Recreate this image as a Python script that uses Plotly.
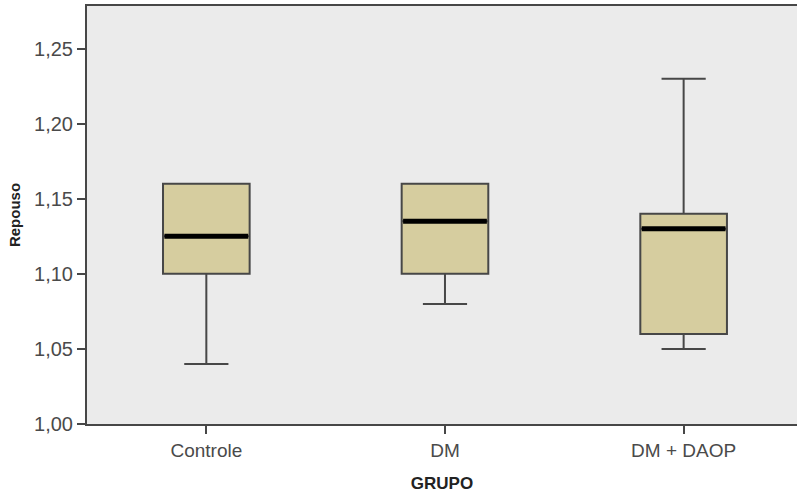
import plotly.graph_objects as go

categories = ["Controle", "DM", "DM + DAOP"]
q1 = [1.10, 1.10, 1.06]
median = [1.125, 1.135, 1.13]
q3 = [1.16, 1.16, 1.14]
lower = [1.04, 1.08, 1.05]
upper = [1.16, 1.16, 1.23]
y_ticks = [1.00, 1.05, 1.10, 1.15, 1.20, 1.25]

pos = list(range(len(categories)))
BW = 0.363
LINE = "#474747"

fig = go.Figure()
fig.add_trace(go.Box(
    x=pos, q1=q1, median=median, q3=q3, lowerfence=lower, upperfence=upper,
    width=BW, whiskerwidth=0.51, fillcolor="#d6cd9f",
    line=dict(color=LINE, width=2), boxpoints=False, hoverinfo="skip",
    showlegend=False,
))
mx, my = [], []
for p, m in zip(pos, median):
    mx += [p - BW / 2 + 0.006, p + BW / 2 - 0.006, None]
    my += [m, m, None]
fig.add_trace(go.Scatter(x=mx, y=my, mode="lines",
                         line=dict(color="#000000", width=5),
                         showlegend=False, hoverinfo="skip"))

fig.update_layout(
    width=797, height=497,
    margin=dict(l=87, r=0, t=6, b=73, autoexpand=False),
    paper_bgcolor="white", plot_bgcolor="#ebebeb",
    separators=",.",
    font=dict(family="Liberation Sans, Arial", color="#4a4a4a"),
    xaxis=dict(
        range=[-0.5, 2.475], tickvals=pos, ticktext=categories,
        showgrid=False, zeroline=False,
        showline=True, linecolor=LINE, linewidth=2, mirror=True,
        ticks="outside", ticklen=8, tickwidth=2, tickcolor=LINE,
        tickfont=dict(size=19, color="#4a4a4a"),
        title=dict(text="<b>GRUPO</b>", font=dict(size=17, color="#222222"), standoff=17),
    ),
    yaxis=dict(
        range=[1.0, 1.2784], tickvals=y_ticks, tickformat=".2f",
        showgrid=False, zeroline=False,
        showline=True, linecolor=LINE, linewidth=2,
        ticks="outside", ticklen=8, tickwidth=2, tickcolor=LINE,
        tickfont=dict(size=20, color="#4a4a4a"),
        title=dict(text="<b>Repouso</b>", font=dict(size=15, color="#222222"), standoff=10),
    ),
)
fig.write_html("out.html", config={"displayModeBar": False})

with open("out.html", "r", encoding="utf-8") as f:
    html = f.read()
html = html.replace("<head>", "<head><style>html,body{margin:0;padding:0;overflow:hidden;}</style>", 1)
with open("out.html", "w", encoding="utf-8") as f:
    f.write(html)
